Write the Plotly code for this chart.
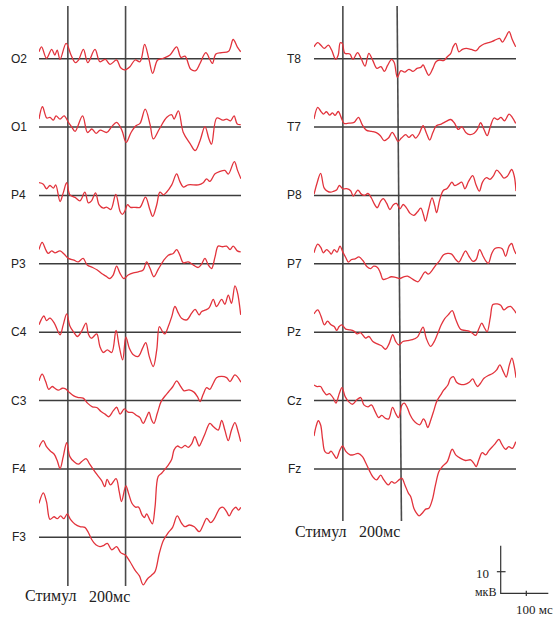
import plotly.graph_objects as go

# ---------------- DATA (time in ms, amplitude in µV) ----------------
T_START, T_END = -100, 600
MARKERS_MS = [0, 200]          # stimulus onset, 200 ms
SCALE_MS = 100
SCALE_UV = 10
SCALE_BAR_MS = 186
SCALE_BAR_UV = 22

LEFT_CHANNELS = ["O2", "O1", "P4", "P3", "C4", "C3", "F4", "F3"]
RIGHT_CHANNELS = ["T8", "T7", "P8", "P7", "Pz", "Cz", "Fz"]

O2_t = [-100, -91, -74, -56, -45, -37, -27, -6, 11, 26, 37, 54, 69, 94, 111, 130, 146, 169, 183, 197, 215, 233, 250, 266, 281, 294, 311, 331, 354, 377, 392, 406, 426, 443, 458, 478, 493, 501, 513, 533, 557, 573, 587, 599]
O2_v = [3.2, 5.5, 0.2, 4.3, 1.7, 4.0, -0.3, 7.1, 1.7, -1.8, -0.6, 4.3, -1.8, 4.3, -1.4, -0.3, -2.6, -0.6, -4.2, -5.2, -3.7, -0.6, -1.4, 6.6, -0.3, -6.8, -0.6, 0.2, 1.7, 5.5, 0.6, 1.2, -4.9, -5.5, -2.2, 2.8, -0.6, -2.2, 2.2, 2.8, 3.4, 8.9, 5.5, 3.2]

O1_t = [-100, -88, -73, -62, -50, -41, -27, -13, 2, 13, 25, 51, 68, 83, 98, 112, 135, 152, 169, 187, 202, 219, 236, 250, 268, 285, 296, 317, 343, 360, 368, 383, 400, 423, 441, 458, 475, 489, 498, 516, 537, 550, 564, 576, 587, 599]
O1_v = [3.7, 9.4, 4.2, 4.5, 3.2, 5.2, 3.7, 5.2, 2.2, 0.2, -2.0, 5.2, -2.5, -0.9, -2.9, -1.4, -2.5, 0.2, 2.2, -1.4, -7.1, -2.5, 0.6, 1.7, 8.3, 1.1, -5.5, -0.9, 4.5, 5.7, 3.7, 7.5, -2.5, -7.5, -10.9, -6.3, 0.2, -5.5, -7.9, 4.2, 3.2, 3.7, 2.9, 5.2, 1.4, 1.1]

P4_t = [-100, -85, -74, -62, -50, -42, -27, -16, -4, 7, 25, 42, 59, 71, 82, 96, 108, 123, 134, 149, 166, 181, 189, 198, 207, 217, 233, 250, 269, 284, 294, 308, 319, 331, 342, 360, 377, 388, 400, 417, 452, 469, 481, 492, 510, 527, 544, 556, 577, 588, 600]
P4_v = [5.9, 5.2, 3.1, 4.6, 3.4, 4.9, -2.8, 1.2, 5.9, 0.3, -0.9, -2.5, 1.5, -3.4, -2.5, 1.2, -4.3, -5.9, -5.4, -6.5, 0.5, -7.4, -8.8, -7.1, -4.3, -5.5, -5.5, -5.5, -0.8, -6.5, -9.7, -4.3, 1.5, 0.3, 1.5, 4.9, 10.0, 6.5, 3.9, 4.9, 4.9, 5.9, 7.7, 6.5, 10.0, 11.1, 11.6, 9.9, 15.7, 11.6, 7.7]

P3_t = [-100, -89, -76, -68, -56, -45, -27, -13, 2, 21, 36, 53, 67, 86, 102, 117, 132, 146, 157, 169, 180, 194, 209, 227, 244, 261, 273, 285, 298, 313, 331, 348, 365, 377, 388, 400, 417, 435, 452, 463, 475, 487, 498, 510, 521, 536, 550, 562, 573, 587, 599]
P3_v = [6.6, 9.9, 6.3, 4.8, 6.0, 5.1, 6.0, 4.5, 2.5, 1.7, 0.9, 2.5, -0.6, -1.7, -2.9, -4.5, -5.7, -6.8, -5.2, -1.1, -4.2, -6.8, -5.2, -4.2, -3.7, -2.9, 0.9, -2.2, -6.0, -2.6, 1.4, 4.0, 4.8, 6.6, 4.0, 0.5, 0.9, -0.6, -1.7, -0.2, 2.5, -0.6, -2.2, 3.2, 8.2, 7.9, 8.2, 6.6, 8.2, 6.0, 5.5]

C4_t = [-100, -83, -74, -62, -47, -27, -16, -4, 7, 19, 33, 47, 63, 71, 82, 100, 111, 123, 137, 152, 167, 178, 190, 201, 213, 227, 244, 259, 270, 282, 296, 308, 317, 328, 336, 348, 360, 371, 383, 394, 412, 429, 441, 455, 463, 478, 490, 504, 515, 533, 544, 556, 567, 579, 587, 599]
C4_v = [3.4, 7.5, 5.4, 6.5, 4.2, -1.2, 3.4, 8.5, 2.9, 0.3, -2.0, 0.3, 4.2, -0.8, -2.8, -0.8, -6.6, -9.4, -8.2, -9.4, 0.8, -6.6, -12.8, -2.3, -7.4, -10.5, -11.2, -7.4, -4.8, -11.2, -15.9, -8.2, 2.6, 0.3, -0.8, 2.6, 7.2, 11.9, 8.8, 6.5, 5.7, 8.8, 10.6, 8.0, 9.5, 10.3, 11.4, 15.2, 11.9, 15.2, 12.9, 17.2, 13.4, 21.4, 18.8, 8.0]

C3_t = [-100, -89, -77, -66, -54, -45, -33, -19, -8, 4, 19, 34, 53, 68, 85, 100, 115, 129, 142, 157, 169, 181, 196, 209, 223, 238, 250, 261, 273, 281, 290, 298, 310, 323, 336, 350, 364, 377, 391, 403, 420, 437, 449, 458, 469, 481, 492, 504, 515, 533, 550, 562, 579, 600]
C3_v = [9.1, 12.2, 8.8, 5.2, 6.5, 5.7, 4.8, 5.7, 5.4, 3.9, 2.3, 1.5, 1.1, -1.2, -2.9, -3.2, -5.1, -6.3, -7.5, -4.8, -3.1, -6.3, -3.9, -5.4, -5.5, -6.9, -7.9, -10.6, -7.5, -5.4, -8.9, -10.6, -5.9, -0.5, 2.0, 4.2, 6.5, 9.1, 6.5, 4.5, 4.9, 3.9, 1.8, -0.5, 2.9, 6.0, 5.2, 8.0, 10.6, 11.2, 10.6, 8.8, 11.9, 8.5]

F4_t = [-100, -85, -74, -60, -48, -37, -27, -16, -4, 7, 21, 36, 48, 63, 74, 88, 102, 117, 128, 136, 148, 167, 178, 186, 201, 211, 222, 234, 245, 257, 265, 273, 284, 293, 302, 313, 325, 336, 348, 360, 368, 379, 394, 406, 417, 429, 440, 455, 463, 475, 492, 504, 521, 533, 544, 556, 567, 579, 590, 599]
F4_v = [10.0, 13.1, 10.3, 8.2, 6.9, 3.9, 0.2, 5.7, 12.2, 5.7, 3.4, 2.2, 3.4, 4.8, 2.6, -0.2, -2.8, -5.4, -8.2, -4.8, -7.4, -4.5, -10.5, -15.1, -7.9, -11.6, -15.9, -17.7, -17.7, -21.3, -22.5, -20.8, -23.6, -25.4, -17.7, -3.5, -2.0, -0.2, 1.8, 4.5, 8.8, 10.6, 9.7, 10.9, 10.0, 11.6, 14.9, 10.6, 12.5, 16.2, 21.1, 19.6, 18.0, 22.5, 18.0, 13.1, 18.0, 21.4, 17.2, 12.6]

F3_t = [-100, -85, -74, -62, -48, -37, -25, -14, -2, 9, 24, 42, 59, 71, 82, 97, 111, 125, 137, 152, 169, 183, 199, 215, 232, 248, 261, 275, 290, 302, 317, 331, 348, 363, 379, 394, 406, 421, 438, 455, 469, 481, 495, 506, 527, 538, 550, 559, 571, 582, 592, 599]
F3_v = [15.7, 20.6, 16.5, 8.3, 9.5, 8.6, 9.9, 8.6, 10.8, 8.3, 6.2, 4.9, 4.6, 2.2, -0.9, -3.5, -4.3, -3.7, -2.8, -5.8, -4.3, -7.1, -8.2, -11.2, -15.1, -17.9, -22.0, -19.4, -17.6, -15.9, -7.4, -1.5, 2.2, 4.6, 9.9, 6.5, 4.9, 5.7, 4.9, 2.6, 5.7, 8.8, 6.8, 8.3, 13.4, 13.9, 11.9, 9.9, 12.6, 13.9, 12.6, 13.9]

T8_t = [-100, -87, -76, -64, -50, -39, -25, -16, -9, -2, 7, 24, 35, 51, 63, 77, 90, 104, 118, 132, 144, 155, 169, 178, 189, 201, 214, 229, 243, 257, 270, 278, 287, 298, 312, 322, 335, 349, 362, 374, 382, 391, 402, 414, 428, 445, 462, 474, 489, 504, 518, 532, 543, 553, 564, 576, 587, 599]
T8_v = [5.5, 7.4, 6.2, 4.8, 6.3, 4.0, -0.3, 1.7, 7.4, 7.1, 2.5, 2.2, -0.3, 2.8, 0.2, -3.4, 2.5, -0.9, -4.5, -3.7, -5.9, -3.1, -0.3, -1.8, -8.6, -5.5, -6.2, -4.9, -5.9, -4.5, -4.0, -2.9, -5.2, -7.7, -4.5, -1.5, -0.6, -0.9, 0.9, 2.5, 5.5, 7.1, 3.2, 4.3, 4.8, 4.3, 3.7, 5.5, 6.8, 7.4, 8.0, 8.9, 9.4, 7.7, 9.9, 12.5, 8.9, 5.5]

T7_t = [-100, -87, -76, -67, -57, -46, -36, -27, -16, -6, 4, 21, 39, 54, 67, 81, 100, 116, 130, 143, 158, 171, 183, 191, 203, 218, 229, 241, 252, 264, 278, 289, 301, 312, 324, 341, 358, 374, 386, 400, 412, 426, 440, 455, 467, 477, 489, 500, 512, 524, 536, 548, 560, 576, 587, 599]
T7_v = [3.7, 9.1, 7.2, 6.0, 7.1, 5.5, 6.6, 5.4, 7.2, 4.5, 1.7, 1.8, 2.2, 4.5, 1.1, -1.4, -2.0, -2.6, -4.0, -6.3, -5.1, -2.5, -4.8, -6.6, -5.1, -3.5, -4.8, -3.5, -5.1, -3.2, 0.6, -2.6, -6.0, -2.5, 0.6, 1.4, 2.6, 3.5, 2.0, -1.1, 0.2, -2.5, -3.5, -2.9, -0.9, 2.0, -1.1, -4.0, 0.6, 4.2, 3.5, 4.5, 2.9, 6.0, 4.5, 1.7]

P8_t = [-100, -89, -77, -65, -54, -42, -31, -22, -12, -1, 13, 27, 36, 52, 64, 75, 87, 99, 108, 119, 131, 140, 152, 163, 175, 186, 198, 209, 221, 233, 246, 258, 270, 279, 286, 297, 309, 318, 325, 336, 348, 360, 369, 378, 387, 399, 412, 423, 436, 450, 461, 473, 484, 498, 510, 521, 533, 547, 558, 570, 585, 594, 600]
P8_v = [0.5, 5.9, 10.2, 3.5, 2.0, 1.5, 2.0, 2.5, 4.6, 3.1, 3.1, 2.2, -0.3, 2.5, 0.6, 0.0, 0.9, -1.2, -3.7, -5.7, -2.6, -1.5, -3.7, -6.5, -4.3, -3.7, -6.2, -4.2, -5.9, -8.3, -9.2, -7.7, -5.9, -8.8, -11.9, -6.5, -1.1, -4.6, -8.0, -1.8, 2.3, 3.1, 4.6, 6.2, 4.6, 5.2, 6.2, 3.1, 6.6, 9.2, 5.1, 2.0, 6.2, 8.2, 7.4, 8.9, 11.7, 9.9, 8.0, 8.9, 12.0, 8.9, 2.0]

P7_t = [-100, -87, -76, -68, -56, -46, -40, -30, -20, -10, 0, 10, 19, 30, 42, 56, 70, 84, 96, 107, 120, 130, 139, 153, 168, 183, 197, 211, 224, 238, 252, 261, 273, 285, 296, 310, 322, 335, 349, 363, 377, 391, 402, 414, 425, 437, 451, 462, 474, 486, 495, 504, 516, 527, 541, 553, 564, 576, 585, 593, 600]
P7_v = [5.1, 9.1, 7.5, 5.1, 6.6, 5.4, 4.5, 6.6, 5.4, 8.2, 5.4, 2.9, 0.8, 2.0, 2.3, 3.2, 1.4, -1.4, -2.2, -1.1, -1.7, -4.2, -7.2, -6.8, -6.0, -6.3, -6.8, -6.0, -5.7, -6.8, -7.9, -8.3, -6.0, -3.7, -4.8, -2.9, -0.6, 1.4, 4.2, 4.8, 4.5, 2.0, 0.8, 3.5, 6.0, 3.5, 1.1, 2.0, 6.6, 3.5, 1.4, 0.2, 4.8, 7.1, 7.5, 6.9, 3.5, 8.2, 9.4, 6.6, 4.5]

Pz_t = [-100, -87, -76, -64, -53, -41, -30, -21, -13, -4, 10, 23, 38, 50, 61, 79, 90, 104, 119, 134, 148, 160, 173, 183, 194, 208, 223, 241, 258, 267, 278, 289, 304, 316, 328, 341, 353, 365, 379, 391, 408, 423, 437, 449, 460, 472, 481, 492, 500, 511, 520, 535, 547, 558, 570, 581, 593, 600]
Pz_v = [8.5, 10.3, 7.5, 3.4, 5.1, 3.4, 2.6, 0.8, 2.6, 3.4, 1.4, 1.1, 0.5, -0.8, -0.2, -2.8, -2.0, -4.3, -5.4, -6.3, -7.9, -5.4, -1.2, -4.3, -5.9, -4.3, -3.9, -3.5, -2.3, -0.2, 2.3, -2.8, -6.6, -4.5, -0.8, 3.4, 6.3, 8.0, 10.0, 6.0, 1.4, 0.8, 0.5, -0.5, -1.5, 1.8, 4.2, 1.7, 0.2, 6.9, 12.8, 13.1, 12.5, 10.3, 11.5, 11.9, 10.3, 8.8]

Cz_t = [-100, -89, -77, -68, -56, -47, -33, -24, -12, -3, 8, 20, 34, 48, 62, 73, 87, 99, 112, 124, 135, 147, 159, 172, 184, 193, 205, 213, 223, 233, 244, 256, 267, 279, 286, 294, 305, 316, 325, 339, 350, 364, 373, 383, 394, 408, 423, 438, 450, 459, 467, 477, 489, 504, 519, 533, 544, 556, 566, 577, 586, 594, 600]
Cz_v = [7.2, 6.5, 6.5, 4.5, 2.6, 3.2, 1.1, -1.2, 3.4, 6.0, 1.8, -0.5, -1.7, 0.3, 1.4, -2.0, -2.9, -2.0, -5.1, -7.9, -6.9, -8.2, -8.5, -3.2, -6.3, -7.9, -2.0, -1.2, -3.2, -6.6, -9.1, -10.6, -11.2, -8.5, -9.7, -12.5, -8.9, -4.3, -0.5, 2.6, 4.9, 7.2, 10.3, 11.1, 8.5, 7.5, 7.5, 8.5, 10.0, 7.9, 6.5, 8.0, 10.3, 11.6, 12.5, 14.2, 16.5, 13.4, 10.9, 16.5, 19.6, 15.7, 10.6]

Fz_t = [-100, -93, -85, -77, -70, -62, -50, -41, -31, -22, -10, -1, 11, 25, 38, 53, 68, 80, 92, 103, 117, 131, 142, 157, 169, 180, 192, 204, 215, 227, 235, 246, 254, 264, 275, 287, 298, 310, 321, 333, 345, 362, 379, 391, 408, 425, 443, 454, 462, 472, 483, 495, 506, 524, 541, 550, 564, 575, 587, 599]
Fz_v = [15.2, 19.6, 22.3, 20.3, 13.4, 8.0, 7.2, 8.2, 6.5, 4.9, 8.8, 10.6, 8.0, 6.5, 6.6, 7.2, 5.7, 2.6, -0.8, -3.5, -5.1, -2.9, -5.1, -7.4, -5.9, -6.6, -5.4, -4.3, -7.4, -11.2, -12.8, -18.2, -20.2, -21.7, -20.5, -18.6, -18.2, -14.3, -7.4, -1.2, 1.1, 3.4, 9.1, 6.5, 4.9, 3.9, 4.2, 2.6, 1.1, 4.5, 7.5, 6.5, 8.5, 11.1, 13.7, 11.6, 9.1, 10.3, 9.5, 12.6]

DATA = {
    "O2": (O2_t, O2_v), "O1": (O1_t, O1_v), "P4": (P4_t, P4_v), "P3": (P3_t, P3_v),
    "C4": (C4_t, C4_v), "C3": (C3_t, C3_v), "F4": (F4_t, F4_v), "F3": (F3_t, F3_v),
    "T8": (T8_t, T8_v), "T7": (T7_t, T7_v), "P8": (P8_t, P8_v), "P7": (P7_t, P7_v),
    "Pz": (Pz_t, Pz_v), "Cz": (Cz_t, Cz_v), "Fz": (Fz_t, Fz_v),
}

# ---------------- LAYOUT (pixel geometry of the page) ----------------
W, H = 558, 621
PX_PER_UV = 2.16
ROW0, ROW_STEP = 58.7, 68.37
ABOVE, BELOW = 55, 62            # px of room above/below each baseline
COLS = {
    "left": dict(channels=LEFT_CHANNELS, x0=39, x1=241, label_x=18.5, vbottom=586),
    "right": dict(channels=RIGHT_CHANNELS, x0=314, x1=516, label_x=294, vbottom=521),
}
TRACE_COLOR = "#e2333c"
GRID_COLOR = "#3c3c3c"
SERIF = "Times New Roman, Liberation Serif, serif"
SANS = "Arial, Liberation Sans, sans-serif"

fig = go.Figure()
layout = dict(
    width=W, height=H, margin=dict(l=0, r=0, t=0, b=0),
    paper_bgcolor="white", plot_bgcolor="rgba(0,0,0,0)", showlegend=False,
)
shapes, annotations = [], []

def px2py(py):
    return 1 - py / H

idx = 0
col_axes = {}
for side, col in COLS.items():
    for r, ch in enumerate(col["channels"]):
        idx += 1
        base = ROW0 + r * ROW_STEP
        xa = "xaxis" if idx == 1 else f"xaxis{idx}"
        ya = "yaxis" if idx == 1 else f"yaxis{idx}"
        xr = "x" if idx == 1 else f"x{idx}"
        yr = "y" if idx == 1 else f"y{idx}"
        col_axes.setdefault(side, xr)
        layout[xa] = dict(domain=[col["x0"] / W, col["x1"] / W], range=[T_START, T_END],
                          visible=False, anchor=yr, fixedrange=True)
        layout[ya] = dict(domain=[px2py(base + BELOW), px2py(base - ABOVE)],
                          range=[-BELOW / PX_PER_UV, ABOVE / PX_PER_UV],
                          visible=False, anchor=xr, fixedrange=True)
        t, v = DATA[ch]
        shapes.append(dict(type="line", xref=xr, yref=yr, x0=T_START, x1=T_END, y0=0, y1=0,
                           line=dict(color=GRID_COLOR, width=1.5), layer="below"))
        fig.add_trace(go.Scatter(x=t, y=v, xaxis=xr, yaxis=yr, mode="lines",
                                 line=dict(color=TRACE_COLOR, width=1.3, shape="spline", smoothing=1.0),
                                 hoverinfo="skip"))
        annotations.append(dict(text=ch, xref="paper", yref=yr, x=col["label_x"] / W, y=0,
                                xanchor="center", yanchor="middle", showarrow=False,
                                font=dict(family=SANS, size=12, color="#222")))

# vertical marker lines (stimulus & 200 ms)
for side, col in COLS.items():
    xr = col_axes[side]
    for m in MARKERS_MS:
        drift_top, drift_bot = (0, 0)
        if side == "right" and m == 200:
            drift_top, drift_bot = (-12, 3)   # slightly slanted line in the original
        shapes.append(dict(type="line", xref=xr, yref="paper",
                           x0=m + drift_top, x1=m + drift_bot,
                           y0=px2py(6), y1=px2py(col["vbottom"]),
                           line=dict(color="#4a4a4a", width=1.6), layer="below"))

# "Стимул  200мс" captions
for (sx, ex, cy) in [(22.7, 87.3, 596), (293, 357.3, 531.7)]:
    annotations.append(dict(text="Стимул", xref="paper", yref="paper", x=sx / W, y=px2py(cy),
                            xanchor="left", yanchor="middle", showarrow=False,
                            font=dict(family=SERIF, size=16, color="#222")))
    annotations.append(dict(text="200мс", xref="paper", yref="paper", x=ex / W, y=px2py(cy),
                            xanchor="left", yanchor="middle", showarrow=False,
                            font=dict(family=SERIF, size=16, color="#222")))

# scale bar axes (own ms / µV scale)
ox, oy = 500.7, 593.3
sx_px_per_ms = 0.256
bx0, bx1, by0, by1 = 488, 556, 540, 600
layout["xaxis16"] = dict(domain=[bx0 / W, bx1 / W],
                         range=[(bx0 - ox) / sx_px_per_ms, (bx1 - ox) / sx_px_per_ms],
                         visible=False, anchor="y16", fixedrange=True)
layout["yaxis16"] = dict(domain=[px2py(by1), px2py(by0)],
                         range=[(oy - by1) / PX_PER_UV, (oy - by0) / PX_PER_UV],
                         visible=False, anchor="x16", fixedrange=True)
bar = dict(color="#333", width=1.2)
fig.add_trace(go.Scatter(x=[0, 0, SCALE_BAR_MS], y=[SCALE_BAR_UV, 0, 0], xaxis="x16", yaxis="y16",
                         mode="lines", line=bar, hoverinfo="skip"))
fig.add_trace(go.Scatter(x=[-15, 19], y=[SCALE_UV, SCALE_UV], xaxis="x16", yaxis="y16",
                         mode="lines", line=bar, hoverinfo="skip"))
fig.add_trace(go.Scatter(x=[SCALE_MS, SCALE_MS], y=[1.2, -1.2], xaxis="x16", yaxis="y16",
                         mode="lines", line=bar, hoverinfo="skip"))
annotations.append(dict(text=str(SCALE_UV), xref="paper", yref="paper", x=491 / W, y=px2py(573),
                        xanchor="right", yanchor="middle", showarrow=False,
                        font=dict(family=SERIF, size=13, color="#222")))
annotations.append(dict(text="мкВ", xref="paper", yref="paper", x=485 / W, y=px2py(591.5),
                        xanchor="center", yanchor="middle", showarrow=False,
                        font=dict(family=SERIF, size=12, color="#222")))
annotations.append(dict(text=f"{SCALE_MS} мс", xref="paper", yref="paper", x=555 / W, y=px2py(609),
                        xanchor="right", yanchor="middle", showarrow=False,
                        font=dict(family=SERIF, size=13, color="#222")))

layout["shapes"] = shapes
layout["annotations"] = annotations
fig.update_layout(**layout)
fig.write_html("out.html", config={"displayModeBar": False},
               post_script="document.body.style.margin='0';document.body.style.padding='0';")
